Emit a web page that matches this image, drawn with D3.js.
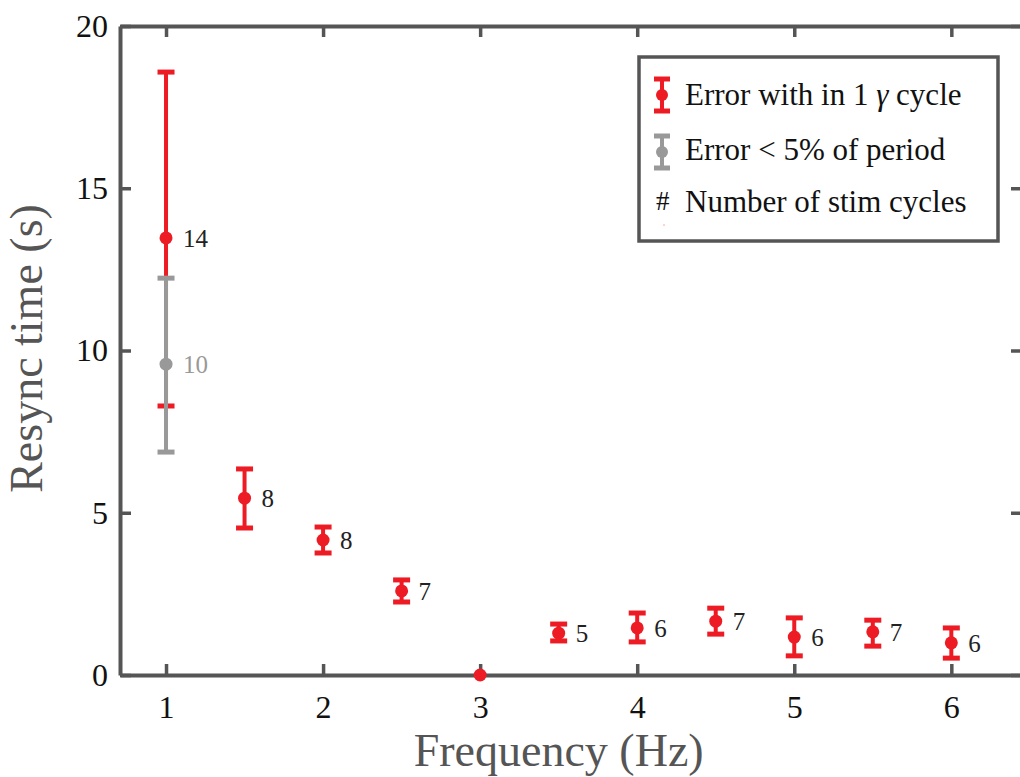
<!DOCTYPE html>
<html>
<head>
<meta charset="utf-8">
<script src="https://cdn.jsdelivr.net/npm/d3@7"></script>
<style>
  body { margin: 0; background: #fff; }
  svg { display: block; }
  svg text { font-family: "Liberation Serif", "DejaVu Serif", serif; }
</style>
</head>
<body>
<div id="chart"></div>
<script>
// Resync time vs stimulation frequency
const frequencies = [1, 1.5, 2, 2.5, 3, 3.5, 4, 4.5, 5, 5.5, 6];
const resyncMean  = [13.47, 5.45, 4.16, 2.59, 0, 1.29, 1.45, 1.66, 1.17, 1.33, 0.99];
const resyncUpper = [18.58, 6.35, 4.56, 2.93, 0, 1.57, 1.91, 2.06, 1.76, 1.69, 1.45];
const resyncLower = [8.29, 4.53, 3.76, 2.25, 0, 1.05, 1.02, 1.26, 0.59, 0.89, 0.52];
const stimCycles  = ["14", "8", "8", "7", "", "5", "6", "7", "6", "7", "6"];

// 5% of period criterion (only 1 Hz)
const grayFreq  = [1];
const grayMean  = [9.58];
const grayUpper = [12.23];
const grayLower = [6.87];
const grayCycles = ["10"];

const xTicks = [1, 2, 3, 4, 5, 6];
const yTicks = [0, 5, 10, 15, 20];

const RED = "#ed1c24";
const GRAY = "#999999";
const AXIS = "#555555";

const W = 1020, H = 777;
const margin = { top: 26, right: -2, bottom: 102, left: 120 };
const width = W - margin.left - margin.right;
const height = H - margin.top - margin.bottom;

const svg = d3.select("#chart").append("svg")
    .attr("width", W)
    .attr("height", H);

const chart = svg.append("g")
    .attr("transform", `translate(${margin.left},${margin.top})`);

const xScale = d3.scaleLinear().domain([0.707, 6.45]).range([0, width]);
const yScale = d3.scaleLinear().domain([0, 20]).range([height, 0]);

// Box axes with inward ticks
function styleAxis(g, showLabels) {
    g.attr("font-family", null).attr("font-size", null);
    g.select(".domain").attr("stroke", AXIS).attr("stroke-width", 4);
    g.selectAll(".tick line").attr("stroke", AXIS).attr("stroke-width", 3.5);
    if (showLabels) {
        g.selectAll(".tick text")
            .attr("fill", "#111")
            .style("font-size", "32px");
    } else {
        g.selectAll(".tick text").remove();
    }
}

chart.append("g")
    .attr("transform", `translate(0,${height})`)
    .call(d3.axisBottom(xScale).tickValues(xTicks).tickFormat(d3.format("d"))
        .tickSizeInner(-11).tickSizeOuter(0).tickPadding(20))
    .call(g => styleAxis(g, true));

chart.append("g")
    .call(d3.axisTop(xScale).tickValues(xTicks).tickSizeInner(-11).tickSizeOuter(0))
    .call(g => styleAxis(g, false));

chart.append("g")
    .call(d3.axisLeft(yScale).tickValues(yTicks).tickFormat(d3.format("d"))
        .tickSizeInner(-11).tickSizeOuter(0).tickPadding(12))
    .call(g => styleAxis(g, true));

chart.append("g")
    .attr("transform", `translate(${width},0)`)
    .call(d3.axisRight(yScale).tickValues(yTicks).tickSizeInner(-11).tickSizeOuter(0))
    .call(g => styleAxis(g, false));

// Axis titles
chart.append("text")
    .attr("x", xScale(3.5))
    .attr("y", height + 91)
    .attr("fill", AXIS)
    .style("font-size", "46px")
    .style("text-anchor", "middle")
    .text("Frequency (Hz)");

chart.append("text")
    .attr("transform", "rotate(-90)")
    .attr("x", -yScale(10) + 2)
    .attr("y", -78)
    .attr("fill", AXIS)
    .style("font-size", "46px")
    .style("text-anchor", "middle")
    .text("Resync time (s)");

// Error bar drawing
function drawErrorBars(freq, mean, upper, lower, labels, color, labelColor) {
    const group = chart.append("g");
    freq.forEach((f, i) => {
        const cx = xScale(f);
        const capHalf = 8.5;
        if (upper[i] !== lower[i]) {
            group.append("line")
                .attr("x1", cx).attr("x2", cx)
                .attr("y1", yScale(upper[i])).attr("y2", yScale(lower[i]))
                .attr("stroke", color).attr("stroke-width", 4);
            [upper[i], lower[i]].forEach(v => {
                group.append("line")
                    .attr("x1", cx - capHalf).attr("x2", cx + capHalf)
                    .attr("y1", yScale(v)).attr("y2", yScale(v))
                    .attr("stroke", color).attr("stroke-width", 5);
            });
        }
        group.append("circle")
            .attr("cx", cx)
            .attr("cy", yScale(mean[i]))
            .attr("r", 6.5)
            .attr("fill", color);
        if (labels[i]) {
            group.append("text")
                .attr("x", cx + 17)
                .attr("y", yScale(mean[i]) + 9)
                .attr("fill", labelColor)
                .style("font-size", "25px")
                .text(labels[i]);
        }
    });
}

drawErrorBars(frequencies, resyncMean, resyncUpper, resyncLower, stimCycles, RED, "#222");
drawErrorBars(grayFreq, grayMean, grayUpper, grayLower, grayCycles, GRAY, GRAY);

// Legend
const legend = svg.append("g").attr("transform", "translate(639,57)");
legend.append("rect")
    .attr("width", 359)
    .attr("height", 184)
    .attr("fill", "#fff")
    .attr("stroke", AXIS)
    .attr("stroke-width", 3.5);

const legendItems = [
    { color: RED, y: 38 },
    { color: GRAY, y: 95 }
];
legendItems.forEach(item => {
    const g = legend.append("g").attr("transform", `translate(23,${item.y})`);
    g.append("line").attr("x1", 0).attr("x2", 0).attr("y1", -16).attr("y2", 16)
        .attr("stroke", item.color).attr("stroke-width", 4);
    [-16, 16].forEach(v => g.append("line")
        .attr("x1", -8).attr("x2", 8).attr("y1", v).attr("y2", v)
        .attr("stroke", item.color).attr("stroke-width", 5));
    g.append("circle").attr("r", 6).attr("fill", item.color);
});
// faint stray mark visible in the original legend
legend.append("circle").attr("cx", 25).attr("cy", 168).attr("r", 0.8).attr("fill", "#f4a0a0");

const legendText = legend.append("g")
    .style("font-size", "31px")
    .attr("fill", "#111");

const t1 = legendText.append("text").attr("x", 46).attr("y", 48);
t1.append("tspan").text("Error with in 1 ");
t1.append("tspan").style("font-style", "italic").text("γ");
t1.append("tspan").text(" cycle");

legendText.append("text").attr("x", 46).attr("y", 103).text("Error < 5% of period");
legendText.append("text").attr("x", 17).attr("y", 153).style("font-size", "27px").text("#");
legendText.append("text").attr("x", 46).attr("y", 155).text("Number of stim cycles");
</script>
</body>
</html>
